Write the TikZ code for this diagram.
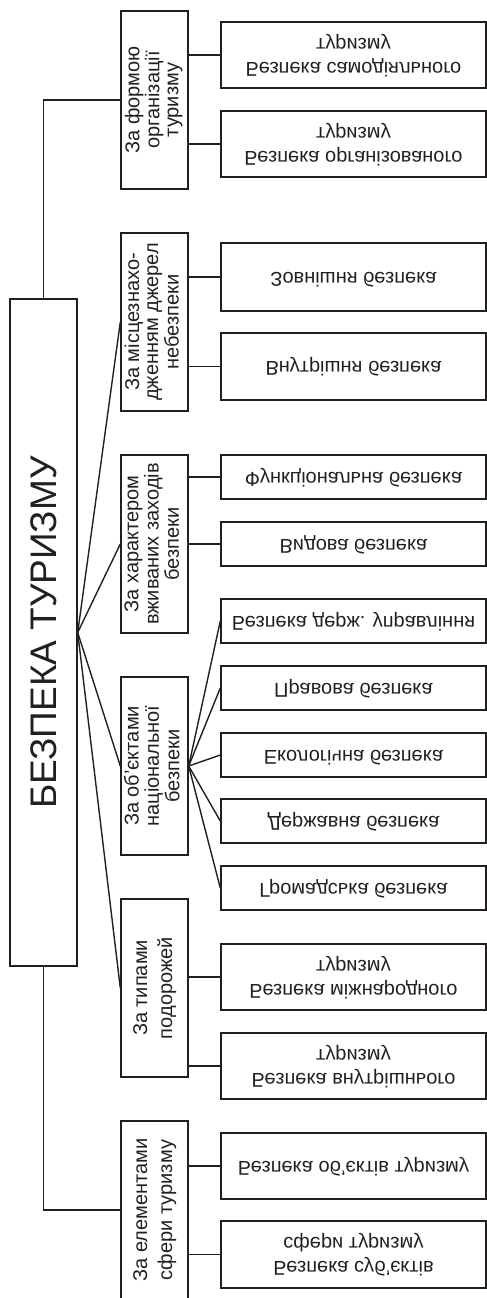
\documentclass[tikz,border=0pt]{standalone}
\usepackage{fontspec}
\setmainfont{Liberation Sans}
\usepackage{graphicx}
\definecolor{ink}{HTML}{231F20}
\newcommand\cattext[2][19]{\rotatebox{90}{\fontsize{20}{#1}\selectfont\begin{tabular}{@{}c@{}}#2\end{tabular}}}
\newcommand\leaftext[2][24]{\scalebox{1}[-1]{\fontsize{20}{#1}\selectfont\begin{tabular}{@{}c@{}}#2\end{tabular}}}
\tikzset{
  box/.style={draw=ink, line width=1.4pt, inner sep=0pt, text=ink},
  mainbox/.style={box, minimum width=67pt, minimum height=667pt},
  catbox/.style={box, minimum width=67pt, minimum height=178pt},
  leaf/.style={box, minimum width=265pt},
  ln/.style={draw=ink, line width=1.4pt}
}
\begin{document}
\begin{tikzpicture}[x=1pt,y=-1pt]
\useasboundingbox (0,0) rectangle (487,1298);
% main
\node[mainbox] (main) at (43.5,632.5) {\rotatebox{90}{\fontsize{37}{42}\selectfont БЕЗПЕКА ТУРИЗМУ}};
% categories
\node[catbox] (cat1) at (154.5,100) {\cattext{За формою\\організації\\туризму}};
\node[catbox] (cat2) at (154.5,322) {\cattext{За місцезнахо-\\дженням джерел\\небезпеки}};
\node[catbox] (cat3) at (154.5,544) {\cattext{За характером\\вживаних заходів\\безпеки}};
\node[catbox] (cat4) at (154.5,766) {\cattext{За об’єктами\\національної\\безпеки}};
\node[catbox] (cat5) at (154.5,988) {\cattext[25]{За типами\\подорожей}};
\node[catbox] (cat6) at (154.5,1210) {\cattext[25]{За елементами\\сфери туризму}};
% leaves
\node[leaf, minimum height=66pt] (L1) at (353.5,55) {\leaftext{Безпека самодіяльного\\туризму}};
\node[leaf, minimum height=66pt] (L2) at (353.5,144) {\leaftext{Безпека організованого\\туризму}};
\node[leaf, minimum height=68pt] (L3) at (353.5,277) {\leaftext{Зовнішня безпека}};
\node[leaf, minimum height=67pt] (L4) at (353.5,366.5) {\leaftext{Внутрішня безпека}};
\node[leaf, minimum height=44pt] (L5) at (353.5,477) {\leaftext{Функціональна безпека}};
\node[leaf, minimum height=44pt] (L6) at (353.5,544) {\leaftext{Видова безпека}};
\node[leaf, minimum height=44pt] (L7) at (353.5,621) {\leaftext{Безпека держ. управління}};
\node[leaf, minimum height=44pt] (L8) at (353.5,688) {\leaftext{Правова безпека}};
\node[leaf, minimum height=44pt] (L9) at (353.5,755) {\leaftext{Екологічна безпека}};
\node[leaf, minimum height=44pt] (L10) at (353.5,821) {\leaftext{Державна безпека}};
\node[leaf, minimum height=44pt] (L11) at (353.5,888) {\leaftext{Громадська безпека}};
\node[leaf, minimum height=66pt] (L12) at (353.5,977) {\leaftext{Безпека міжнародного\\туризму}};
\node[leaf, minimum height=66pt] (L13) at (353.5,1066) {\leaftext{Безпека внутрішнього\\туризму}};
\node[leaf, minimum height=66pt] (L14) at (353.5,1166) {\leaftext{Безпека об’єктів туризму}};
\node[leaf, minimum height=67pt] (L15) at (353.5,1254.5) {\leaftext{Безпека суб’єктів\\сфери туризму}};
% connectors
\foreach \c/\l in {cat1/L1, cat1/L2, cat2/L3, cat2/L4, cat3/L5, cat3/L6, cat5/L12, cat5/L13, cat6/L14, cat6/L15}
  \draw[ln] (\l.west) -- (\l.west -| \c.east);
\foreach \l in {L7, L8, L9, L10, L11}
  \draw[ln] (cat4.east) -- (\l.west);
\draw[ln] (main.north) |- (cat1.west);
\draw[ln] (main.south) |- (cat6.west);
\foreach \c in {cat2, cat3, cat4, cat5}
  \draw[ln] (main.east) -- (\c.west);
\end{tikzpicture}
\end{document}
